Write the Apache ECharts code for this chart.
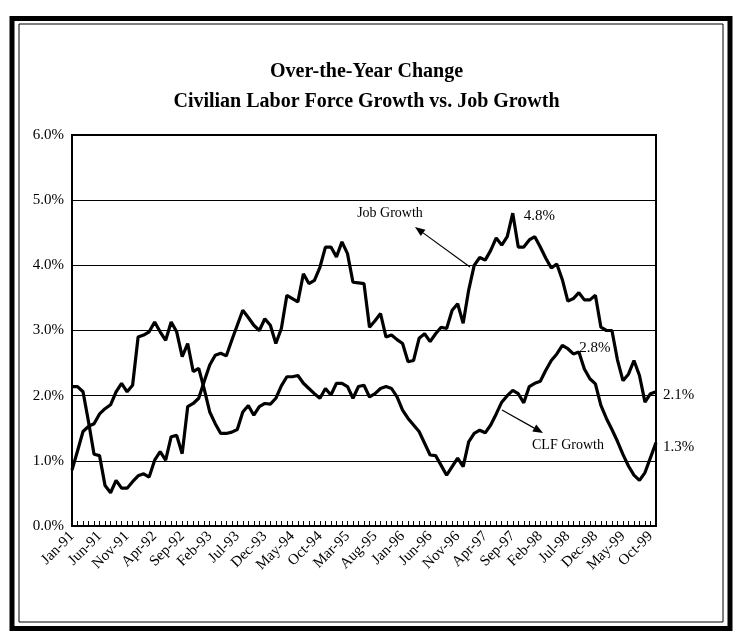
<!DOCTYPE html>
<html>
<head>
<meta charset="utf-8">
<script src="https://cdn.jsdelivr.net/npm/echarts@6/dist/echarts.min.js"></script>
<style>
html,body{margin:0;padding:0;background:#fff;}
#c{width:733px;height:632px;}
</style>
</head>
<body>
<div id="c"></div>
<script>
// ---- data ----
const monthNames = ['Jan','Feb','Mar','Apr','May','Jun','Jul','Aug','Sep','Oct','Nov','Dec'];
const years = ['91','92','93','94','95','96','97','98','99'];
const lastMonthIndex = 10; // Nov-99
const categories = [];
years.forEach((y, yi) => {
  monthNames.forEach((m, mi) => {
    if (yi === years.length - 1 && mi > lastMonthIndex) return;
    categories.push(m + '-' + y);
  });
});

const jobGrowth = [
  2.14,2.14,2.06,1.60,1.10,1.08,0.62,0.51,0.70,0.58,0.58,0.68,
  0.77,0.80,0.75,1.01,1.14,1.01,1.37,1.39,1.11,1.83,1.88,1.96,
  2.22,2.47,2.62,2.65,2.61,2.85,3.08,3.31,3.20,3.08,3.00,3.18,
  3.08,2.80,3.03,3.54,3.49,3.44,3.87,3.72,3.77,3.97,4.28,4.28,
  4.13,4.36,4.18,3.74,3.73,3.72,3.05,3.15,3.26,2.90,2.93,2.86,
  2.80,2.52,2.54,2.88,2.95,2.83,2.95,3.05,3.03,3.31,3.41,3.11,
  3.62,4.00,4.12,4.08,4.23,4.42,4.31,4.44,4.80,4.28,4.28,4.39,
  4.44,4.28,4.11,3.96,4.02,3.78,3.45,3.49,3.58,3.47,3.47,3.54,
  3.05,3.00,3.00,2.55,2.23,2.33,2.54,2.31,1.90,2.03,2.06
];
const clfGrowth = [
  0.86,1.15,1.45,1.53,1.57,1.72,1.80,1.86,2.06,2.19,2.06,2.16,
  2.90,2.93,2.98,3.13,2.98,2.85,3.13,2.98,2.60,2.80,2.37,2.42,
  2.10,1.75,1.57,1.42,1.42,1.44,1.48,1.75,1.85,1.70,1.83,1.88,
  1.87,1.96,2.15,2.29,2.29,2.31,2.19,2.11,2.03,1.96,2.11,2.01,
  2.19,2.19,2.14,1.96,2.14,2.16,1.98,2.03,2.11,2.14,2.11,1.98,
  1.78,1.65,1.55,1.45,1.27,1.09,1.08,0.93,0.78,0.91,1.04,0.91,
  1.29,1.42,1.47,1.43,1.55,1.72,1.90,2.00,2.08,2.03,1.89,2.14,
  2.19,2.22,2.39,2.54,2.64,2.77,2.72,2.64,2.67,2.41,2.26,2.18,
  1.85,1.65,1.48,1.30,1.10,0.92,0.78,0.70,0.82,1.05,1.28
];
const yTicks = [0,1,2,3,4,5,6];
const titleLines = ['Over-the-Year Change', 'Civilian Labor Force Growth vs. Job Growth'];
const seriesNames = ['Job Growth', 'CLF Growth'];
// callouts: [index, text]
const jobCallouts = [[80, '4.8%'], [106, '2.1%']];
const clfCallouts = [[89, '2.8%'], [106, '1.3%']];

// ---- chart ----
const SERIF = "'Liberation Serif','Times New Roman',serif";
const chart = echarts.init(document.getElementById('c'), null, {renderer:'canvas'});

function arrow(x1, y1, x2, y2) {
  const dx = x2 - x1, dy = y2 - y1, L = Math.hypot(dx, dy);
  const ux = dx / L, uy = dy / L, hl = 10, hw = 4;
  const bx = x2 - ux * hl, by = y2 - uy * hl;
  return [
    {type:'line', shape:{x1:x1, y1:y1, x2:bx, y2:by}, style:{stroke:'#000', lineWidth:1.2}, silent:true},
    {type:'polygon', shape:{points:[[x2,y2],[bx - uy*hw, by + ux*hw],[bx + uy*hw, by - ux*hw]]}, style:{fill:'#000'}, silent:true}
  ];
}

const labelStyle = {fontFamily:SERIF, fontSize:15, color:'#000'};

const option = {
  animation:false,
  backgroundColor:'#fff',
  title:[
    {text:titleLines[0], left:'center', top:57, textStyle:{fontFamily:SERIF, fontWeight:'bold', fontSize:20, color:'#000'}},
    {text:titleLines[1], left:'center', top:87, textStyle:{fontFamily:SERIF, fontWeight:'bold', fontSize:20, color:'#000'}}
  ],
  grid:{left:72, right:77, top:135, bottom:106, show:true, borderColor:'#000', borderWidth:2, backgroundColor:'transparent'},
  xAxis:{
    type:'category', data:categories, boundaryGap:false,
    axisLine:{lineStyle:{color:'#000', width:2}},
    axisTick:{show:true, inside:true, length:5, interval:0, lineStyle:{color:'#000', width:1}},
    axisLabel:{interval:4, rotate:45, margin:8, fontFamily:SERIF, fontSize:15, color:'#000'},
    splitLine:{show:false}
  },
  yAxis:{
    type:'value', min:yTicks[0], max:yTicks[yTicks.length-1], interval:1,
    axisLine:{show:true, lineStyle:{color:'#000', width:2}},
    axisTick:{show:false},
    axisLabel:{margin:8, fontFamily:SERIF, fontSize:15, color:'#000', formatter:v => v.toFixed(1) + '%'},
    splitLine:{show:true, lineStyle:{color:'#000', width:1}}
  },
  series:[
    {
      name:seriesNames[0], type:'line', data:jobGrowth, symbol:'none',
      lineStyle:{color:'#000', width:3.2}, z:3,
      markPoint:{
        symbol:'circle', symbolSize:0, silent:true,
        data: jobCallouts.map(c => ({coord:[c[0], jobGrowth[c[0]]], value:c[1],
          label:{show:true, formatter:c[1], position:'right', offset: c[0] === 80 ? [6,3] : [2,3], ...labelStyle}}))
      }
    },
    {
      name:seriesNames[1], type:'line', data:clfGrowth, symbol:'none',
      lineStyle:{color:'#000', width:3.2}, z:3,
      markPoint:{
        symbol:'circle', symbolSize:0, silent:true,
        data: clfCallouts.map(c => ({coord:[c[0], clfGrowth[c[0]]], value:c[1],
          label:{show:true, formatter:c[1], position:'right', offset: c[0] === 89 ? [12,3] : [2,4], ...labelStyle}}))
      }
    }
  ],
  graphic:[
    // outer frame
    {type:'rect', shape:{x:12, y:18.5, width:718, height:610}, style:{fill:'none', stroke:'#000', lineWidth:5}, silent:true},
    {type:'rect', shape:{x:19, y:24, width:704, height:598}, style:{fill:'none', stroke:'#000', lineWidth:1}, silent:true},
    // annotation texts
    {type:'text', x:390, y:213, style:{text:seriesNames[0], font:"14px 'Liberation Serif'", fill:'#000', textAlign:'center', textVerticalAlign:'middle'}, silent:true},
    {type:'text', x:568, y:445, style:{text:seriesNames[1], font:"14px 'Liberation Serif'", fill:'#000', textAlign:'center', textVerticalAlign:'middle'}, silent:true},
    ...arrow(470, 267, 415, 227),
    ...arrow(502, 410, 543, 433)
  ]
};
chart.setOption(option);
</script>
</body>
</html>
